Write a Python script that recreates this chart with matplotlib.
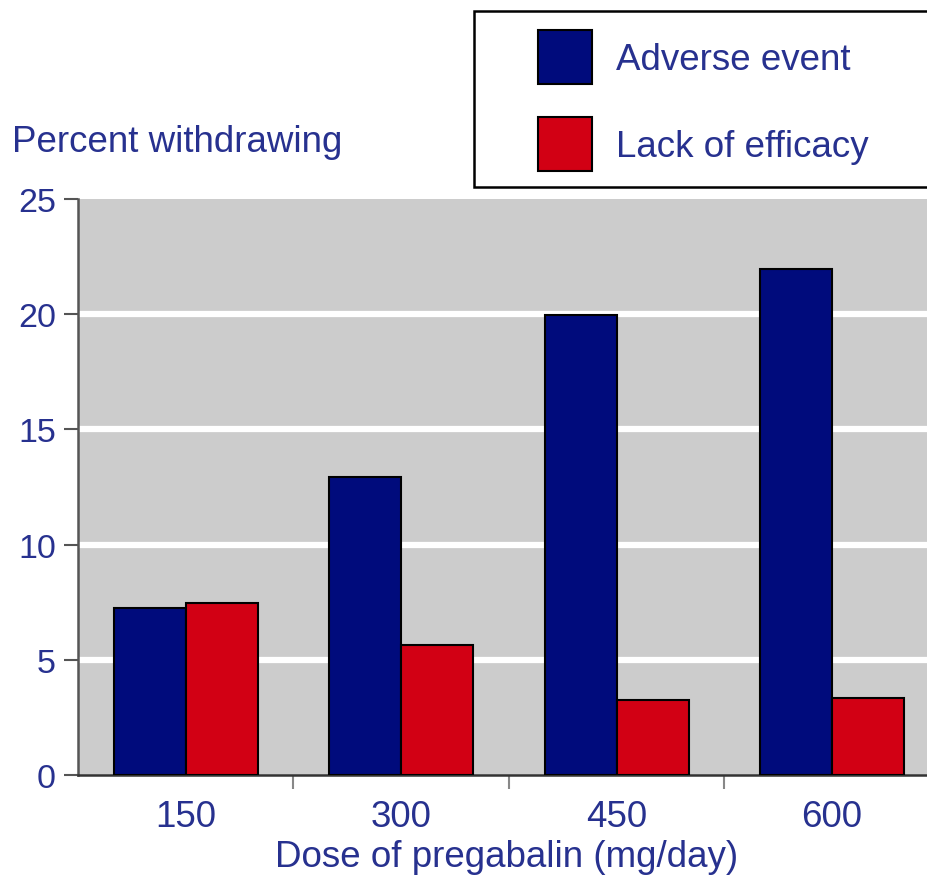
import matplotlib.pyplot as plt
from matplotlib.patches import Rectangle, Patch
import numpy as np

plt.rcParams['font.family'] = ['Liberation Sans', 'DejaVu Sans']

doses = ['150', '300', '450', '600']
adverse = [7.25, 12.95, 19.95, 21.95]
lack_eff = [7.45, 5.65, 3.25, 3.35]
yticks = [0, 5, 10, 15, 20, 25]

navy = '#000b7c'
red = '#d20014'
txt = '#27318f'
axc = '#555555'

fig = plt.figure(figsize=(9.28, 8.78), dpi=100)
ax = fig.add_axes([78 / 928, 1 - 776 / 878, 850 / 928, 576 / 878])
ax.set_facecolor('#cccccc')

x = np.arange(len(doses))
w = 0.334
ax.bar(x - w / 2, adverse, w, color=navy, edgecolor='black', linewidth=1.5, zorder=3)
ax.bar(x + w / 2, lack_eff, w, color=red, edgecolor='black', linewidth=1.5, zorder=3)

for y in yticks[1:-1]:
    ax.axhline(y, color='white', lw=4.5, zorder=1)

ax.set_xlim(-0.5, 3.445)
ax.set_ylim(0, 25)
ax.set_yticks(yticks)
ax.set_xticks(x)
ax.set_xticklabels(doses)
ax.set_xticks(x[:-1] + 0.5, minor=True)

for s in ['top', 'right']:
    ax.spines[s].set_visible(False)
ax.spines['left'].set_color(axc)
ax.spines['left'].set_linewidth(1.8)
ax.spines['bottom'].set_color('#333333')
ax.spines['bottom'].set_linewidth(1.8)

ax.tick_params(axis='y', length=10, width=1.5, color=axc, labelcolor=txt,
               labelsize=24.5, pad=6)
ax.tick_params(axis='x', which='major', length=0, labelcolor=txt, labelsize=26.5, pad=17)
ax.tick_params(axis='x', which='minor', length=10, width=1.5, color='#888888')

fig.text(12 / 928, 1 - 143 / 878, 'Percent withdrawing', color=txt, fontsize=26.5,
         va='center', ha='left')
fig.text(507 / 928, 1 - 858 / 878, 'Dose of pregabalin (mg/day)', color=txt,
         fontsize=26.5, va='center', ha='center')

# legend box
fig.patches.append(Rectangle((474 / 928, 1 - 188 / 878), 460 / 928, 176 / 878,
                             transform=fig.transFigure, facecolor='white',
                             edgecolor='black', linewidth=1.8, zorder=5))
handles = [Patch(facecolor=navy, edgecolor='black', linewidth=1.5),
           Patch(facecolor=red, edgecolor='black', linewidth=1.5)]
leg = fig.legend(handles, ['Adverse event', 'Lack of efficacy'], loc='upper left',
                 bbox_to_anchor=(538 / 928, 1 - 31 / 878), frameon=False,
                 fontsize=26.5, handlelength=1.48, handleheight=1.88,
                 labelspacing=0.9, handletextpad=0.65, borderpad=0,
                 borderaxespad=0)
for t in leg.get_texts():
    t.set_color(txt)
leg.set_zorder(6)

fig.savefig('out.png', dpi=100)
